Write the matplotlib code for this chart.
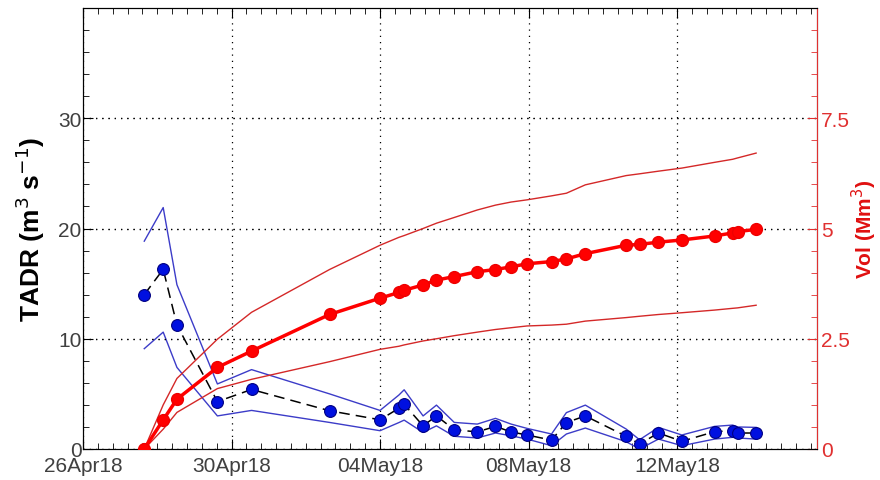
import numpy as np
import matplotlib
matplotlib.use("Agg")
import matplotlib.pyplot as plt
import matplotlib.dates as mdates
from matplotlib.ticker import FixedLocator
from datetime import datetime

plt.rcParams['font.family'] = ['Liberation Sans', 'DejaVu Sans']

# measurement times, days after 26 Apr 2018 00:00
days = [1.65, 2.16, 2.53, 3.62, 4.54, 6.64, 8.0, 8.51, 8.65, 9.16, 9.52, 10.0,
        10.62, 11.11, 11.53, 11.96, 12.62, 13.02, 13.53, 14.63, 14.99, 15.5,
        16.13, 17.01, 17.5, 17.63, 18.13]

# TADR (m3 s-1) and its bounds
tadr = [14.0, 16.3, 11.25, 4.3, 5.4, 3.47, 2.65, 3.7, 4.05, 2.1, 3.0, 1.75,
        1.55, 2.05, 1.55, 1.27, 0.81, 2.4, 3.0, 1.15, 0.45, 1.45,
        0.7, 1.57, 1.66, 1.45, 1.45]
tadr_hi = [18.85, 21.9, 14.9, 5.9, 7.2, 5.0, 3.5, 4.9, 5.37, 3.0, 3.98, 2.41,
           2.26, 2.78, 2.26, 1.87, 1.36, 3.3, 3.98, 1.81, 0.84, 1.96,
           1.27, 2.05, 2.17, 2.0, 1.96]
tadr_lo = [9.1, 10.6, 7.4, 3.0, 3.5, 2.41, 1.66, 2.4, 2.62, 1.5, 2.1, 1.15,
           1.0, 1.45, 1.2, 0.9, 0.3, 1.36, 1.9, 0.66, 0.0, 0.9,
           0.3, 0.9, 1.06, 1.0, 0.9]

# cumulative volume (Mm3) and its bounds
vol = [0.0, 0.66, 1.13, 1.85, 2.22, 3.05, 3.42, 3.55, 3.6, 3.72, 3.83, 3.91,
       4.02, 4.07, 4.13, 4.2, 4.25, 4.31, 4.43, 4.62, 4.64, 4.69,
       4.74, 4.83, 4.9, 4.93, 4.98]
vol_hi = [0.0, 1.0, 1.6, 2.49, 3.1, 4.07, 4.62, 4.8, 4.84, 5.0, 5.12, 5.25,
          5.42, 5.53, 5.6, 5.65, 5.74, 5.8, 5.99, 6.2, 6.24, 6.3,
          6.37, 6.5, 6.57, 6.6, 6.71]
vol_lo = [0.0, 0.45, 0.83, 1.37, 1.58, 1.98, 2.26, 2.33, 2.36, 2.45, 2.5, 2.57,
          2.65, 2.71, 2.75, 2.79, 2.81, 2.83, 2.9, 2.98, 3.01, 3.05,
          3.09, 3.15, 3.19, 3.2, 3.26]

t0 = mdates.date2num(datetime(2018, 4, 26))
t = t0 + np.array(days)

fig = plt.figure(figsize=(8.8, 4.81), dpi=100)
ax = fig.add_axes([83 / 880, 31 / 481, 734 / 880, 441 / 481])
ax2 = ax.twinx()

band_blue = '#3c3cc8'
ax.plot(t, tadr_hi, color=band_blue, lw=1)
ax.plot(t, tadr_lo, color=band_blue, lw=1)
ax.plot(t, tadr, color='black', lw=1.1, ls=(0, (7, 4)), marker='o', ms=8.5,
        mfc='#0010e0', mec='#000080', mew=0.8, zorder=3)

ax2.plot(t, vol_hi, color='#d42828', lw=1)
ax2.plot(t, vol_lo, color='#d42828', lw=1)
ax2.plot(t, vol, color='#ff0000', lw=2.5, marker='o', ms=8.5,
         mfc='#ff0000', mec='#ee0000', zorder=3)

ax.set_xlim(t0, t0 + 19.77)
ax.set_ylim(0, 40)
ax2.set_ylim(0, 10)

ax.xaxis.set_major_locator(FixedLocator(t0 + np.array([0, 4, 8, 12, 16])))
ax.xaxis.set_major_formatter(mdates.DateFormatter('%d%b%y'))
ax.xaxis.set_minor_locator(FixedLocator(t0 + np.arange(0, 19.8, 0.4)))
ax.yaxis.set_major_locator(FixedLocator([0, 10, 20, 30]))
ax.yaxis.set_minor_locator(FixedLocator(np.arange(0, 40.1, 2)))
ax2.yaxis.set_major_locator(FixedLocator([0, 2.5, 5, 7.5]))
ax2.yaxis.set_minor_locator(FixedLocator(np.arange(0, 10.01, 0.5)))
ax2.yaxis.set_major_formatter(plt.FuncFormatter(lambda v, p: f'{v:g}'))

ax.grid(True, which='major', ls=(0, (1, 4)), color='black', lw=0.9)
ax2.grid(True, which='major', ls=(0, (1, 4)), color='black', lw=0.9)

ax.tick_params(which='both', direction='in', top=True, right=False,
               labelsize=15, labelcolor='#404040', pad=1)
ax.tick_params(axis='x', which='major', pad=5)
ax.tick_params(which='major', length=7)
ax.tick_params(which='minor', length=4)
ax2.tick_params(which='both', direction='in', colors='#e03030',
                labelsize=15, pad=3)
ax2.tick_params(which='major', length=7)
ax2.tick_params(which='minor', length=4)
ax2.spines['right'].set_color('#e03030')
for lab in ax.get_yticklabels() + ax2.get_yticklabels():
    lab.set_verticalalignment('center_baseline')

ax.set_ylabel('TADR (m$^3$ s$^{\\mathsf{-}1}$)', fontsize=19, fontweight='bold',
              labelpad=8)
ax2.set_ylabel('Vol (Mm$^3$)', fontsize=15, fontweight='bold', color='#e01010',
               labelpad=0)

fig.savefig('out.png', dpi=100)
